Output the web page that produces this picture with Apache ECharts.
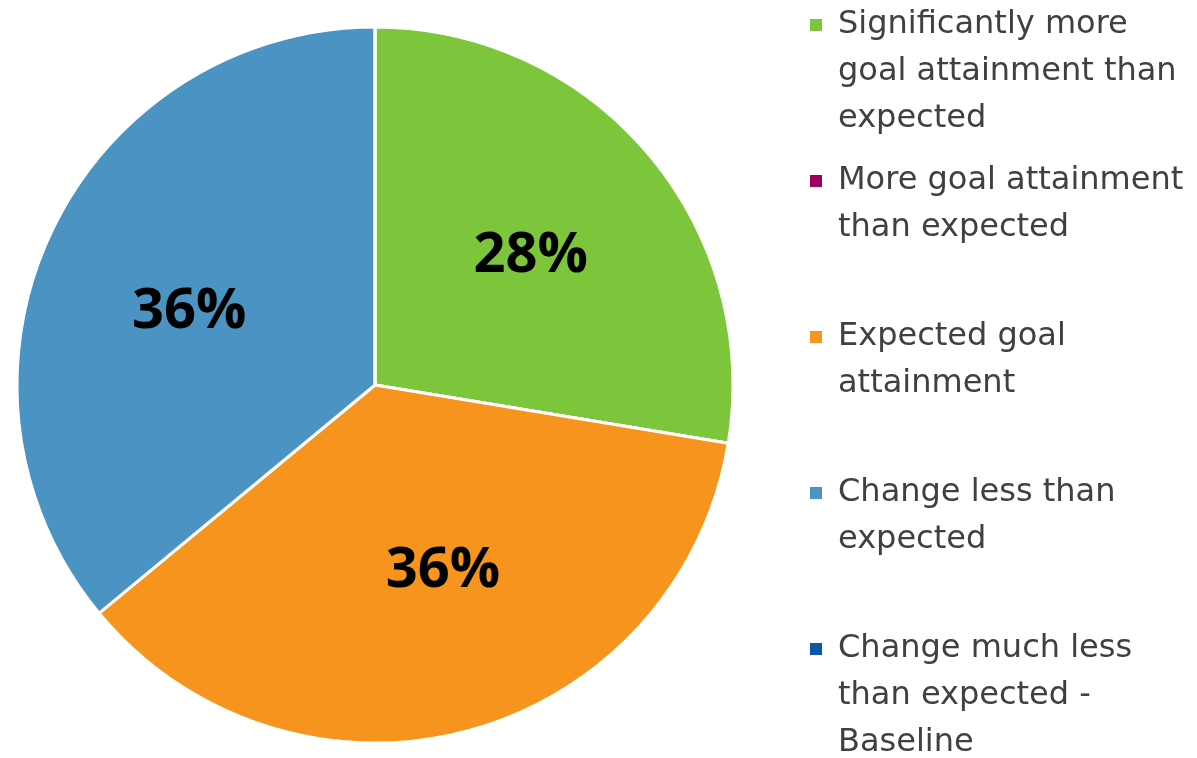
<!DOCTYPE html>
<html>
<head>
<meta charset="utf-8">
<script src="https://cdn.jsdelivr.net/npm/echarts@6/dist/echarts.min.js"></script>
<style>
  html, body { margin: 0; padding: 0; background: #ffffff; }
  #chart { width: 1197px; height: 758px; }
</style>
</head>
<body>
<div id="chart"></div>
<script>
// ---- data ----
const categories = [
  'Significantly more goal attainment than expected',
  'More goal attainment than expected',
  'Expected goal attainment',
  'Change less than expected',
  'Change much less than expected - Baseline'
];
const legendLines = [
  ['Significantly more', 'goal attainment than', 'expected'],
  ['More goal attainment', 'than expected'],
  ['Expected goal', 'attainment'],
  ['Change less than', 'expected'],
  ['Change much less', 'than expected -', 'Baseline']
];
const values = [27.6, 0, 36.4, 36.0, 0];
const colors = ['#7dc63c', '#a0005b', '#f7941d', '#4a93c2', '#0c57a4'];
// small nudges of the in-slice percentage labels (px)
const labelNudges = [[1, 2], [0, 0], [15, -10], [-2, 13], [0, 0]];

// ---- layout / style ----
const LH = 47;
const MAXLINES = 3;
const LEGEND_FONT = '"DejaVu Sans", sans-serif';
const LABEL_FONT = '"Open Sans", "Noto Sans", sans-serif';

const chart = echarts.init(document.getElementById('chart'), null, { renderer: 'canvas' });

const pieData = categories.map((c, i) => ({ name: c, value: values[i], itemStyle: { color: colors[i] } }));
const labelData = categories.map((c, i) => ({
  name: c, value: values[i],
  label: { offset: labelNudges[i] }
}));

const option = {
  backgroundColor: '#ffffff',
  animation: false,
  legend: {
    orient: 'vertical',
    left: 808,
    top: 25 - (MAXLINES - 0.5) * LH,
    height: 3000,
    padding: 0,
    itemGap: 156 - (2 * MAXLINES - 1) * LH,
    itemWidth: 14,
    itemHeight: 14,
    icon: 'rect',
    selectedMode: false,
    data: categories,
    formatter: function (name) {
      const lines = legendLines[categories.indexOf(name)];
      const before = new Array(MAXLINES - 1).fill('');
      const after = new Array(MAXLINES - lines.length).fill('');
      return before.concat(lines, after).join('\n');
    },
    textStyle: {
      fontFamily: LEGEND_FONT,
      fontSize: 32,
      lineHeight: LH,
      color: '#404040',
      padding: [0, 0, 0, 10]
    }
  },
  series: [
    {
      type: 'pie',
      center: [375, 385],
      radius: [0, 358],
      startAngle: 90,
      clockwise: true,
      avoidLabelOverlap: false,
      silent: true,
      label: { show: false },
      labelLine: { show: false },
      itemStyle: { borderColor: '#ffffff', borderWidth: 3 },
      emphasis: { disabled: true },
      data: pieData
    },
    {
      type: 'pie',
      center: [375, 385],
      radius: [0, 400],
      startAngle: 90,
      clockwise: true,
      avoidLabelOverlap: false,
      silent: true,
      itemStyle: { color: 'rgba(0,0,0,0)', borderWidth: 0 },
      emphasis: { disabled: true },
      labelLine: { show: false },
      label: {
        show: true,
        position: 'inside',
        fontFamily: LABEL_FONT,
        fontWeight: 'bold',
        fontSize: 56,
        color: '#000000',
        formatter: function (p) {
          return p.value > 0 ? Math.round(p.percent) + '%' : '';
        }
      },
      data: labelData
    }
  ]
};
chart.setOption(option);
</script>
</body>
</html>
